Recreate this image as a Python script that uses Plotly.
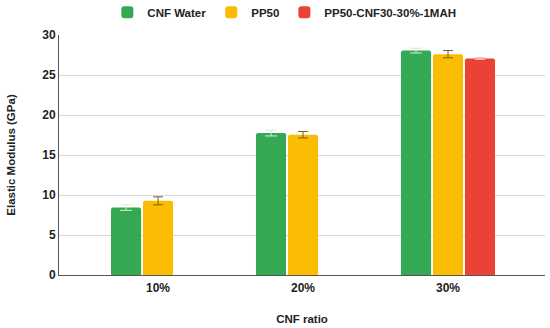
import plotly.graph_objects as go

categories = ["10%", "20%", "30%"]
cnf_water = [8.43, 17.75, 28.05]
cnf_water_err = [0.35, 0.37, 0.3]
pp50 = [9.27, 17.54, 27.6]
pp50_err = [0.5, 0.4, 0.45]
pp50_mah = [None, None, 27.07]
pp50_mah_err = [0, 0, 0.12]

font_family = "Liberation Sans, Arial, sans-serif"
tfont = dict(family=font_family, size=12, color="#222222", weight="bold")
lfont = dict(family=font_family, size=11.5, color="#222222", weight="bold")

fig = go.Figure()
fig.add_trace(go.Bar(
    name="CNF Water", x=categories, y=cnf_water,
    marker=dict(color="#34A853", line=dict(width=0)),
    error_y=dict(type="data", array=cnf_water_err, color="#d8eed9", thickness=1, width=6),
))
fig.add_trace(go.Bar(
    name="PP50", x=categories, y=pp50,
    marker=dict(color="#FBBC04", line=dict(width=0)),
    error_y=dict(type="data", array=pp50_err, color="#7a5e10", thickness=1, width=5),
))
fig.add_trace(go.Bar(
    name="PP50-CNF30-30%-1MAH", x=categories, y=pp50_mah,
    marker=dict(color="#EA4335", line=dict(width=0)),
    error_y=dict(type="data", array=pp50_mah_err, color="#f5c6c1", thickness=1, width=5),
))

fig.update_layout(
    width=550, height=328,
    margin=dict(l=59, r=5, t=35, b=53, autoexpand=False),
    paper_bgcolor="white", plot_bgcolor="white",
    barmode="group", bargap=0.338, bargroupgap=0.06,
    barcornerradius=2,
    font=lfont,
    showlegend=True,
    legend=dict(
        orientation="h", x=0.517, xanchor="center", xref="container",
        y=0.963, yanchor="middle", yref="container",
        font=lfont, traceorder="normal",
    ),
    xaxis=dict(
        type="category", range=[-0.683, 2.669], automargin=False,
        showline=True, linecolor="#555555", linewidth=1,
        showgrid=False, ticks="outside", ticklen=2, tickcolor="rgba(0,0,0,0)",
        tickfont=tfont,
        title=dict(text="CNF ratio", standoff=20, font=lfont),
    ),
    yaxis=dict(
        range=[0, 30], dtick=5, automargin=False,
        showline=True, linecolor="#555555", linewidth=1,
        showgrid=True, gridcolor="#d9d9d9", gridwidth=1,
        zeroline=False, ticks="",
        tickfont=tfont,
        title=dict(text="Elastic Modulus (GPa)", standoff=24, font=lfont),
    ),
)

fig.write_html("out.html", config={"displayModeBar": False},
               post_script="document.body.style.margin='0';")
